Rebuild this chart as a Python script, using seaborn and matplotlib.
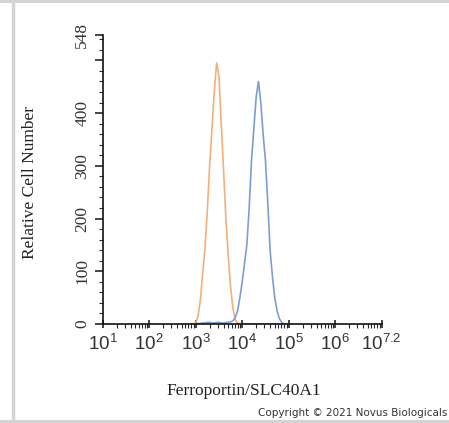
import numpy as np
import pandas as pd
import seaborn as sns
import matplotlib

matplotlib.use("Agg")

import matplotlib.pyplot as plt
from matplotlib.lines import Line2D
from matplotlib.ticker import LogLocator, NullFormatter

# histogram bins, log10 of the fluorescence intensity
log_bins = np.round(np.arange(2.90, 5.01, 0.05), 2)

# cell counts per bin
control_counts = [0, 0, 2, 15, 45, 95, 145, 215, 300, 370, 440, 495, 470, 380, 290, 200,
                  130, 70, 30, 8, 2, 0, 0, 0, 0, 0, 0, 0, 0, 0, 0, 0, 0, 0, 0, 0,
                  0, 0, 0, 0, 0, 0, 0]
stained_counts = [0, 0, 0, 1, 1, 2, 2, 3, 3, 2, 2, 3, 3, 2, 2, 3, 3, 4, 6, 12, 25, 50,
                  80, 115, 150, 220, 310, 370, 430, 460, 420, 360, 310, 230, 140, 90,
                  50, 25, 10, 3, 0, 0, 0]

x_ticks = [1e1, 1e2, 1e3, 1e4, 1e5, 1e6, 1e7]
x_tick_labels = ["1", "2", "3", "4", "5", "6", "7.2"]
y_ticks = [0, 100, 200, 300, 400, 500, 548]
y_tick_labels = ["0", "100", "200", "300", "400", "", "548"]

colours = {"control": "#f4b07a", "stained": "#7d9fd0"}

df = pd.concat([
    pd.DataFrame({"x": 10 ** log_bins, "count": control_counts, "sample": "control"}),
    pd.DataFrame({"x": 10 ** log_bins, "count": stained_counts, "sample": "stained"}),
])

sns.set_style("ticks")
plt.rcParams["font.family"] = ["Liberation Serif", "DejaVu Serif"]
plt.rcParams["mathtext.default"] = "regular"

fig = plt.figure(figsize=(4.49, 4.23), dpi=100)
ax = fig.add_axes([102.7 / 449, 1 - 324 / 423, 279 / 449, 289 / 423])

sns.lineplot(data=df, x="x", y="count", hue="sample", palette=colours,
             linewidth=1.2, ax=ax, legend=False, sort=False, estimator=None)

ax.set_xscale("log")
ax.set_xlim(10, 1e7)
ax.set_ylim(0, 548)
sns.despine(ax=ax)
for s in ["left", "bottom"]:
    ax.spines[s].set_linewidth(1.2)
    ax.spines[s].set_color("#111111")

ax.set_xticks(x_ticks)
ax.set_xticklabels([r"$\mathregular{10^{%s}}$" % t for t in x_tick_labels],
                   fontfamily="Liberation Sans", fontsize=13.5, color="#333333")
ax.xaxis.set_minor_locator(LogLocator(base=10, subs=np.arange(2, 10), numticks=20))
ax.xaxis.set_minor_formatter(NullFormatter())
ax.tick_params(axis="x", which="major", length=6, width=1.2, direction="inout", pad=4)
ax.tick_params(axis="x", which="minor", length=3, width=0.8, direction="out")

ax.set_yticks(y_ticks)
ax.set_yticklabels(y_tick_labels, rotation=90, va="center", fontsize=12.5, color="#333333")
ax.set_yticks(np.arange(0, 548, 20), minor=True)
ax.tick_params(axis="y", which="major", length=6, width=1.2, direction="out", pad=3)
ax.tick_params(axis="y", which="minor", length=3, width=0.8, direction="out")

ax.set_xlabel("Ferroportin/SLC40A1", fontsize=12.5, color="#222222")
ax.set_ylabel("Relative Cell Number", fontsize=12.5, color="#222222")
ax.xaxis.set_label_coords(0.506, -0.204)
ax.yaxis.set_label_coords(-0.232, 0.488)

fig.text(447 / 449, 1 - 413 / 423, "Copyright \u00a9 2021 Novus Biologicals",
         ha="right", va="center", fontsize=7.5, fontfamily="DejaVu Sans", color="#333333")

# grey frame of the original screenshot
fig.add_artist(Line2D([0, 1], [1 - 1.5 / 423] * 2, color="#d4d4d4", linewidth=3,
                      transform=fig.transFigure))
fig.add_artist(Line2D([0, 1], [1.5 / 423] * 2, color="#d4d4d4", linewidth=3,
                      transform=fig.transFigure))
fig.add_artist(Line2D([12.5 / 449] * 2, [0, 1], color="#d4d4d4", linewidth=2.5,
                      transform=fig.transFigure))

fig.savefig("out.png", dpi=100)
